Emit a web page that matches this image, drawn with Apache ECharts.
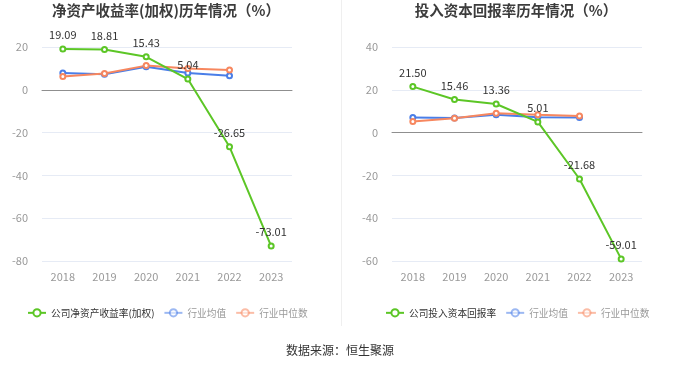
<!DOCTYPE html>
<html><head><meta charset="utf-8">
<script src="https://cdn.jsdelivr.net/npm/echarts@6/dist/echarts.min.js"></script>
<style>html,body{margin:0;padding:0;background:#fff}#c{width:680px;height:367px}</style>
</head><body><div id="c"></div>
<script>
var years = ['2018','2019','2020','2021','2022','2023'];
var roe = [19.09, 18.81, 15.43, 5.04, -26.65, -73.01];
var roeAvg = [7.8, 7.3, 10.8, 7.8, 6.6];
var roeMed = [6.2, 7.6, 11.3, 10.0, 9.3];
var roic = [21.50, 15.46, 13.36, 5.01, -21.68, -59.01];
var roicAvg = [7.1, 6.8, 8.3, 7.2, 7.0];
var roicMed = [5.2, 6.7, 9.0, 8.3, 7.8];
var leftTicks = {min: -80, max: 20, interval: 20};
var rightTicks = {min: -60, max: 40, interval: 20};

var GREEN = '#5cc626', BLUE = '#4a7ee8', ORANGE = '#f7875f';
var font = '"Noto Sans CJK SC", "Noto Sans", sans-serif';

function xAxis(gi){
  return {type:'category', gridIndex:gi, data:years, boundaryGap:true,
    axisLine:{lineStyle:{color:'#8f8f8f'}},
    axisTick:{alignWithLabel:true, lineStyle:{color:'#8f8f8f'}},
    axisLabel:{color:'#999', fontSize:11, margin:10, fontFamily:font}};
}
function yAxis(gi, t){
  return {type:'value', gridIndex:gi, min:t.min, max:t.max, interval:t.interval,
    axisLine:{show:false}, axisTick:{show:false},
    axisLabel:{color:'#999', fontSize:11, margin:14, fontFamily:font},
    splitLine:{lineStyle:{color:'#e6ebf5'}}};
}
function line(name, data, color, gi, main){
  return {name:name, type:'line', xAxisIndex:gi, yAxisIndex:gi, data:data,
    symbol:'emptyCircle', symbolSize:5, z: main?3:2,
    lineStyle:{color:color, width:2}, itemStyle:{color:color},
    label: main ? {show:true, position:'top', distance:5, color:'#333', fontSize:11, fontFamily:font,
      formatter:function(p){return p.value.toFixed(2);}} : {show:false}};
}
function legend(x, names){
  return {left:x, top:308, itemWidth:18, itemHeight:9, itemGap:9, padding:0,
    textStyle:{fontSize:9.7, fontFamily:font, color:'#333'},
    data:[{name:names[0]},
      {name:names[1], textStyle:{color:'#999'}, itemStyle:{opacity:0.55}, lineStyle:{opacity:0.55}},
      {name:names[2], textStyle:{color:'#999'}, itemStyle:{opacity:0.55}, lineStyle:{opacity:0.55}}]};
}

var chart = echarts.init(document.getElementById('c'));
chart.setOption({
  animation:false,
  title:[
    {text:'净资产收益率(加权)历年情况（%）', left:161, top:-2, textAlign:'center',
      textStyle:{fontSize:14.5, fontWeight:'bold', color:'#3c3c3c', fontFamily:font}},
    {text:'投入资本回报率历年情况（%）', left:511, top:-2, textAlign:'center',
      textStyle:{fontSize:14.5, fontWeight:'bold', color:'#3c3c3c', fontFamily:font}}
  ],
  legend:[legend(27, ['公司净资产收益率(加权)','行业均值','行业中位数']),
          legend(385, ['公司投入资本回报率','行业均值','行业中位数'])],
  grid:[{left:42, right:388, top:47, bottom:106},
        {left:392, right:38, top:47, bottom:106}],
  xAxis:[xAxis(0), xAxis(1)],
  yAxis:[yAxis(0, leftTicks), yAxis(1, rightTicks)],
  series:[
    line('公司净资产收益率(加权)', roe, GREEN, 0, true),
    line('行业均值', roeAvg, BLUE, 0, false),
    line('行业中位数', roeMed, ORANGE, 0, false),
    line('公司投入资本回报率', roic, GREEN, 1, true),
    line('行业均值', roicAvg, BLUE, 1, false),
    line('行业中位数', roicMed, ORANGE, 1, false)
  ],
  graphic:[
    {type:'line', shape:{x1:341.5, y1:0, x2:341.5, y2:326}, style:{stroke:'#efefef', lineWidth:1}},
    {type:'text', left:'center', top:344, style:{text:'数据来源：恒生聚源', fill:'#333', fontSize:12, fontFamily:font}}
  ]
});
</script></body></html>
